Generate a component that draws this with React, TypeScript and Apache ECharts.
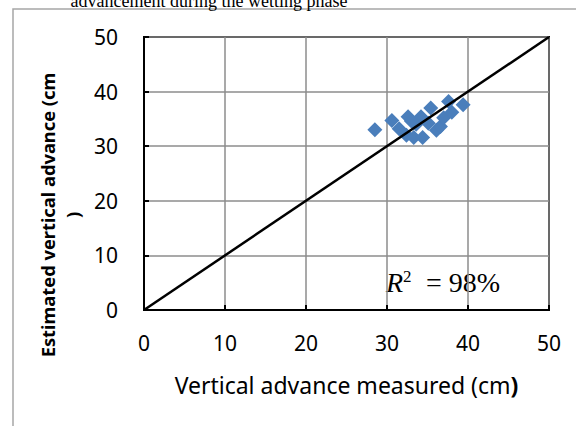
import React, { useEffect, useRef } from "react";
import * as echarts from "echarts";

const measured = [28.5, 30.6, 31.5, 32.6, 32.4, 33.3, 33.6, 34.2, 34.4, 35.1, 35.4, 36.1, 36.6, 37.0, 37.6, 38.0, 39.4, 33.0];
const estimated = [33.0, 34.7, 33.2, 35.4, 32.0, 31.6, 34.0, 35.4, 31.6, 34.2, 37.0, 32.9, 33.6, 35.2, 38.2, 36.2, 37.6, 34.6];
const lineX = [0, 50];
const lineY = [0, 50];
const axisTicks = [0, 10, 20, 30, 40, 50];

const sans = "'Noto Sans', 'Open Sans', sans-serif";
const serif = "'Liberation Serif', 'DejaVu Serif', serif";

export default function App() {
  const ref = useRef<HTMLDivElement>(null);
  useEffect(() => {
    if (!ref.current) return;
    const chart = echarts.init(ref.current, null, { renderer: "svg" });
    const pts = measured.map((x, i) => [x, estimated[i]]);
    const line = lineX.map((x, i) => [x, lineY[i]]);
    chart.setOption({
      animation: false,
      backgroundColor: "#fff",
      grid: {
        left: 144,
        right: 27,
        top: 37,
        bottom: 116,
        show: true,
        borderColor: "#000",
        borderWidth: 2,
        backgroundColor: "transparent",
      },
      xAxis: {
        type: "value",
        min: axisTicks[0],
        max: axisTicks[axisTicks.length - 1],
        interval: 10,
        name: "Vertical advance measured (cm{b|)}",
        nameLocation: "middle",
        nameGap: 63,
        nameTextStyle: {
          fontFamily: sans,
          fontSize: 23,
          color: "#000",
          rich: { b: { fontFamily: sans, fontSize: 23, fontWeight: "bold", color: "#000" } },
        },
        axisLine: { show: true, lineStyle: { color: "#000", width: 2 } },
        axisTick: { show: true, inside: true, length: 5, lineStyle: { color: "#000", width: 2 } },
        axisLabel: { fontFamily: sans, fontSize: 21, color: "#000", margin: 22 },
        splitLine: { show: true, lineStyle: { color: "#8c8c8c", width: 1.5 } },
      },
      yAxis: {
        type: "value",
        min: axisTicks[0],
        max: axisTicks[axisTicks.length - 1],
        interval: 10,
        axisLine: { show: true, lineStyle: { color: "#000", width: 2 } },
        axisTick: { show: true, inside: true, length: 5, lineStyle: { color: "#000", width: 2 } },
        axisLabel: { fontFamily: sans, fontSize: 21, color: "#000", margin: 26 },
        splitLine: { show: true, lineStyle: { color: "#8c8c8c", width: 1.5 } },
      },
      graphic: [
        {
          type: "rect",
          shape: { x: 13, y: 9, width: 700, height: 600 },
          style: { fill: "none", stroke: "#a6a6a6", lineWidth: 1.5 },
          silent: true,
        },
        {
          type: "text",
          x: 209,
          y: 10,
          style: {
            text: "advancement during the wetting phase",
            font: `18px ${serif}`,
            fill: "#000",
            align: "center",
            verticalAlign: "bottom",
          },
        },
        {
          type: "text",
          x: 60,
          y: 215,
          rotation: Math.PI / 2,
          style: {
            text: "Estimated vertical advance (cm\n)",
            font: `bold 18.3px ${sans}`,
            lineHeight: 25,
            fill: "#000",
            align: "center",
            verticalAlign: "middle",
          },
        },
        {
          type: "text",
          x: 386,
          y: 296,
          style: { text: "R", font: `italic 28px ${serif}`, fill: "#000", verticalAlign: "bottom" },
        },
        {
          type: "text",
          x: 403,
          y: 285,
          style: { text: "2", font: `17px ${serif}`, fill: "#000", verticalAlign: "bottom" },
        },
        {
          type: "text",
          x: 426,
          y: 296,
          style: { text: "= 98%", font: `28px ${serif}`, fill: "#000", verticalAlign: "bottom" },
        },
      ],
      series: [
        {
          type: "line",
          data: line,
          symbol: "none",
          lineStyle: { color: "#000", width: 2.5 },
          z: 3,
        },
        {
          type: "scatter",
          data: pts,
          symbol: "diamond",
          symbolSize: 15,
          itemStyle: { color: "#4a7ebb", opacity: 1 },
          z: 2,
        },
      ],
    });
    return () => chart.dispose();
  }, []);
  return (
    <div
      ref={ref}
      style={{ position: "fixed", left: 0, top: 0, width: 576, height: 426 }}
    />
  );
}
